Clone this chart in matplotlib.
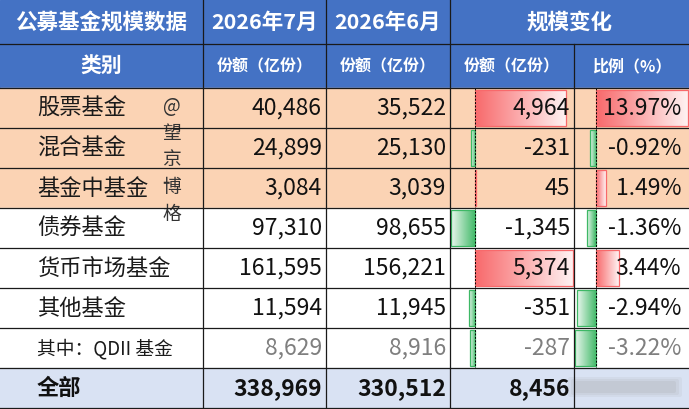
import numpy as np
import matplotlib.pyplot as plt
from matplotlib.colors import LinearSegmentedColormap
from matplotlib.patches import Rectangle, FancyBboxPatch

plt.rcParams['font.family'] = ['Noto Sans CJK SC', 'DejaVu Sans']

# --- Datos ---
categorias = ['股票基金', '混合基金', '基金中基金', '债券基金', '货币市场基金', '其他基金', '其中：QDII 基金']
jul = [40486, 24899, 3084, 97310, 161595, 11594, 8629]
jun = [35522, 25130, 3039, 98655, 156221, 11945, 8916]
cambio = [4964, -231, 45, -1345, 5374, -351, -287]
pct = [13.97, -0.92, 1.49, -1.36, 3.44, -2.94, -3.22]
total = ['338,969', '330,512', '8,456']

titulo = '公募基金规模数据'
meses = ['2026年7月', '2026年6月']
subcab = ['类别', '份额（亿份）', '份额（亿份）', '份额（亿份）', '比例（%）']

# --- Geometría (px) ---
W, H = 689, 409
col_x = [0, 203, 326, 450, 574, 689]
row_y = [0, 44, 88] + [88 + 40 * (i + 1) for i in range(8)]

azul = '#4472C4'
melocoton = '#FBD3B4'
azul_claro = '#D9E2F3'
rojo = '#F8696B'
verde = '#3DB865'

fig = plt.figure(figsize=(W / 100, H / 100), dpi=100)
ax = fig.add_axes([0, 0, 1, 1])
ax.set_xlim(0, W)
ax.set_ylim(H, 0)
ax.axis('off')

# fondos
ax.add_patch(Rectangle((0, 0), W, row_y[2], color=azul, zorder=0))
for i in range(len(categorias)):
    c = melocoton if i < 3 else 'white'
    ax.add_patch(Rectangle((0, row_y[2 + i]), W, 40, color=c, zorder=0))
ax.add_patch(Rectangle((0, row_y[9]), W, 40, color=azul_claro, zorder=0))

# cabeceras
def centro(a, b):
    return (a + b) / 2

yh1 = centro(row_y[0], row_y[1])
yh2 = centro(row_y[1], row_y[2])
ax.text(centro(col_x[0], col_x[1]), yh1, titulo, color='white', fontsize=15.5,
        fontweight='bold', ha='center', va='center')
for j, m in enumerate(meses):
    ax.text(centro(col_x[1 + j], col_x[2 + j]), yh1, m, color='white', fontsize=15.5,
            fontweight='bold', ha='center', va='center')
ax.text(centro(col_x[3], col_x[5]), yh1, '规模变化', color='white', fontsize=15.5,
        fontweight='bold', ha='center', va='center')
for j, s in enumerate(subcab):
    fs = 15 if j == 0 else 11.5
    ax.text(centro(col_x[j], col_x[j + 1]), yh2, s, color='white', fontsize=fs,
            fontweight='bold', ha='center', va='center')

# barras con gradiente
cmap_r = LinearSegmentedColormap.from_list('r', [rojo, '#FFF2F2'])
cmap_g = LinearSegmentedColormap.from_list('g', [verde, '#EAF7EE'])
grad = np.linspace(0, 1, 256).reshape(1, -1)

def barras(vals, x0, x1):
    pad = 1
    vmin, vmax = min(vals), max(vals)
    ancho = (x1 - x0) - 2 * pad
    eje = x0 + pad + ancho * (-vmin) / (vmax - vmin)
    esc = ancho / (vmax - vmin)
    for i, v in enumerate(vals):
        y0 = row_y[2 + i] + 2
        h = 36
        L = v * esc
        if v >= 0:
            ax.imshow(grad, cmap=cmap_r, extent=(eje, eje + L, y0 + h, y0),
                      aspect='auto', zorder=1)
            ax.add_patch(Rectangle((eje, y0), L, h, fill=False, ec=rojo, lw=0.9, zorder=2))
        else:
            ax.imshow(grad[:, ::-1], cmap=cmap_g, extent=(eje + L, eje, y0 + h, y0),
                      aspect='auto', zorder=1)
            ax.add_patch(Rectangle((eje + L, y0), -L, h, fill=False, ec=verde, lw=0.9, zorder=2))
    ax.plot([eje, eje], [row_y[2], row_y[9]], color='black', lw=0.7,
            ls=(0, (2, 1.5)), zorder=3)

barras(cambio, col_x[3], col_x[4])
barras(pct, col_x[4], col_x[5])

# datos
for i, cat in enumerate(categorias):
    yc = centro(row_y[2 + i], row_y[3 + i]) + 0.5
    qdii = i == len(categorias) - 1
    color = '#7F7F7F' if qdii else '#111111'
    ax.text(37, yc, cat, fontsize=13.5 if qdii else 16, color='#1a1a1a',
            ha='left', va='center', zorder=4)
    celdas = [f'{jul[i]:,}', f'{jun[i]:,}', f'{cambio[i]:,}', f'{pct[i]:.2f}%']
    for j, t in enumerate(celdas):
        ax.text(col_x[2 + j] - 4 if j < 3 else col_x[5] - 8, yc, t, fontsize=16.5,
                color=color, ha='right', va='center', zorder=4)

yt = centro(row_y[9], row_y[10]) + 0.5
ax.text(37, yt, '全部', fontsize=16, fontweight='bold', color='#111111', ha='left', va='center')
for j, t in enumerate(total):
    ax.text(col_x[2 + j] - 4, yt, t, fontsize=16.5, fontweight='bold', color='#111111',
            ha='right', va='center', zorder=4)

# zona difuminada
for k, a in enumerate([0.10, 0.12, 0.15]):
    ax.add_patch(FancyBboxPatch((570 + 3 * k, 379 + 2 * k), 110 - 6 * k, 16 - 4 * k,
                                boxstyle='round,pad=2', fc='#9A9A9A', ec='none',
                                alpha=a, zorder=5))

# marca de agua vertical
for k, ch in enumerate(['@', '望', '京', '博', '格']):
    ax.text(172, 106 + 27 * k, ch, fontsize=13.5, color='#333333', ha='center',
            va='center', zorder=6)

# bordes
for y in row_y[1:]:
    ax.plot([0, W], [y, y], color='#1a1a1a', lw=0.9, zorder=7)
for j, x in enumerate(col_x[1:-1], start=1):
    y_ini = row_y[1] if j == 4 else row_y[0]
    ax.plot([x, x], [y_ini, row_y[10]], color='#1a1a1a', lw=0.9, zorder=7)

fig.savefig('out.png', dpi=100)
